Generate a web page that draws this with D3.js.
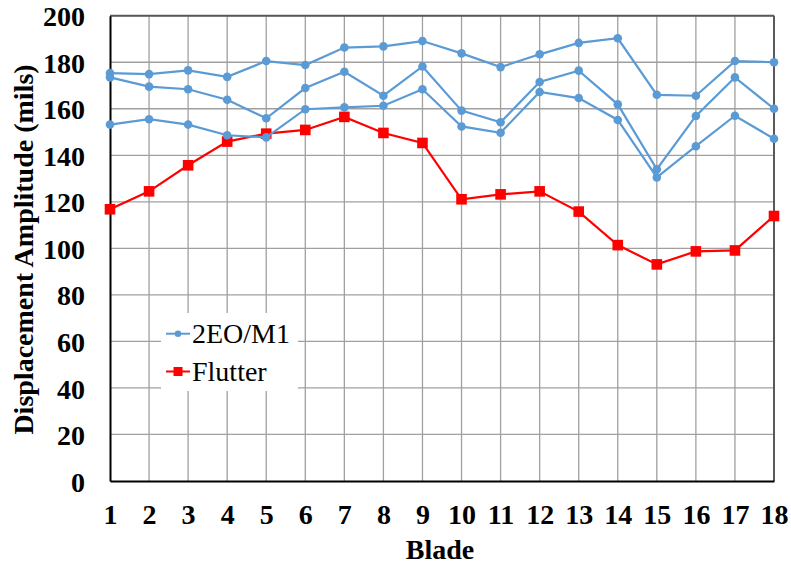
<!DOCTYPE html>
<html><head><meta charset="utf-8">
<script src="https://cdn.jsdelivr.net/npm/d3@7"></script>
<style>body{margin:0;background:#fff}svg{display:block}</style>
</head><body>
<svg id="c" width="791" height="565"></svg>
<script>
const blades = [1,2,3,4,5,6,7,8,9,10,11,12,13,14,15,16,17,18];
const mode2EO_a = [175.3,174.9,176.5,173.7,180.5,178.8,186.3,186.8,189.1,183.8,177.9,183.4,188.3,190.3,166.0,165.6,180.5,180.0];
const mode2EO_b = [173.5,169.5,168.4,163.9,155.9,168.9,175.9,165.6,178.2,159.2,154.2,171.5,176.4,161.9,134.0,156.9,173.5,160.0];
const mode2EO_c = [153.2,155.5,153.2,148.6,147.7,159.8,160.6,161.3,168.4,152.4,149.7,167.2,164.6,155.2,130.5,143.9,157.0,147.1];
const flutter   = [116.8,124.5,135.7,145.9,149.3,150.9,156.5,149.6,145.3,121.1,123.2,124.5,115.8,101.4,93.1,98.7,99.1,113.9];
const yTicks = [0,20,40,60,80,100,120,140,160,180,200];
const xLabel = "Blade";
const yLabel = "Displacement Amplitude (mils)";
const legendNames = ["2EO/M1","Flutter"];

const BLUE = "#5B9BD5", RED = "#FF0000";
const svg = d3.select("#c");
const L = 110, R = 774, T = 15.7, B = 481;
const x = d3.scaleLinear().domain([1,18]).range([L,R]);
const y = d3.scaleLinear().domain([0,200]).range([B,T]);
const font = "'Liberation Serif','Times New Roman',serif";
const FS = "28px";

// grid
const g = svg.append("g");
g.selectAll(".hg").data(yTicks.slice(1)).enter().append("line")
  .attr("x1",L).attr("x2",R).attr("y1",d=>y(d)).attr("y2",d=>y(d))
  .attr("stroke","#a0a0a0").attr("stroke-width",1.3);
g.selectAll(".vg").data(blades.slice(1)).enter().append("line")
  .attr("x1",d=>x(d)).attr("x2",d=>x(d)).attr("y1",T).attr("y2",B)
  .attr("stroke","#a0a0a0").attr("stroke-width",1.3);
// frame top/right
svg.append("line").attr("x1",L).attr("x2",R).attr("y1",T).attr("y2",T).attr("stroke","#595959").attr("stroke-width",2);
svg.append("line").attr("x1",R).attr("x2",R).attr("y1",T).attr("y2",B).attr("stroke","#595959").attr("stroke-width",2);

// axes
const yAxis = d3.axisLeft(y).tickValues(yTicks).tickSize(0).tickPadding(25);
const ya = svg.append("g").attr("transform",`translate(${L},0)`).call(yAxis);
ya.select(".domain").attr("stroke","#000").attr("stroke-width",2);
ya.selectAll("text").attr("font-family",font).attr("font-weight","bold").attr("font-size",FS).attr("fill","#000").attr("dy","0.36em");
const xAxis = d3.axisBottom(x).tickValues(blades).tickFormat(d3.format("d")).tickSize(0).tickPadding(23);
const xa = svg.append("g").attr("transform",`translate(0,${B})`).call(xAxis);
xa.select(".domain").attr("stroke","#000").attr("stroke-width",2);
xa.selectAll("text").attr("font-family",font).attr("font-weight","bold").attr("font-size",FS).attr("fill","#000");

// axis titles
svg.append("text").attr("x",(L+R)/2-2).attr("y",559).attr("text-anchor","middle")
  .attr("font-family",font).attr("font-weight","bold").attr("font-size",FS).text(xLabel);
svg.append("text").attr("transform",`translate(33,${(62+437)/2}) rotate(-90)`).attr("text-anchor","middle")
  .attr("font-family",font).attr("font-weight","bold").attr("font-size",FS).text(yLabel);

const line = d3.line().x((d,i)=>x(blades[i])).y(d=>y(d));

// flutter
svg.append("path").datum(flutter).attr("d",line).attr("fill","none").attr("stroke",RED).attr("stroke-width",2.2);
svg.selectAll(".fm").data(flutter).enter().append("rect")
  .attr("x",(d,i)=>x(blades[i])-5.3).attr("y",d=>y(d)-5.3).attr("width",10.6).attr("height",10.6).attr("fill",RED);

// blue series
[mode2EO_a,mode2EO_b,mode2EO_c].forEach(s=>{
  svg.append("path").datum(s).attr("d",line).attr("fill","none").attr("stroke",BLUE).attr("stroke-width",2.2);
  svg.append("g").selectAll("circle").data(s).enter().append("circle")
    .attr("cx",(d,i)=>x(blades[i])).attr("cy",d=>y(d)).attr("r",4.3).attr("fill",BLUE);
});

// legend
const lg = svg.append("g");
lg.append("rect").attr("x",161).attr("y",313).attr("width",137).attr("height",78).attr("fill","#fff");
const items = [{n:legendNames[0],c:BLUE,ly:333.7,ty:343,m:"c"},{n:legendNames[1],c:RED,ly:371.5,ty:381,m:"s"}];
items.forEach(it=>{
  lg.append("line").attr("x1",166).attr("x2",190).attr("y1",it.ly).attr("y2",it.ly).attr("stroke",it.c).attr("stroke-width",2);
  if(it.m==="c") lg.append("circle").attr("cx",178).attr("cy",it.ly).attr("r",3.3).attr("fill",it.c);
  else lg.append("rect").attr("x",173.5).attr("y",it.ly-4.5).attr("width",9).attr("height",9).attr("fill",it.c);
  lg.append("text").attr("x",192).attr("y",it.ty).attr("font-family",font).attr("font-size",FS).attr("fill","#000").text(it.n);
});
</script>
</body></html>
